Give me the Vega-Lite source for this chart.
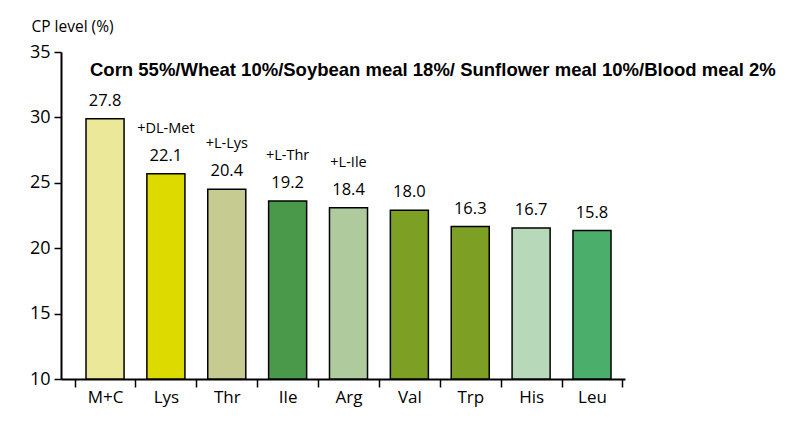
{
  "$schema": "https://vega.github.io/schema/vega-lite/v6.json",
  "width": 564,
  "height": 327,
  "autosize": {"type": "none"},
  "padding": {"left": 61, "top": 52, "right": 177, "bottom": 56},
  "background": "white",
  "title": {
    "text": "Corn 55%/Wheat 10%/Soybean meal 18%/ Sunflower meal 10%/Blood meal 2%",
    "anchor": "start",
    "frame": "group",
    "orient": "top",
    "offset": 0,
    "dx": 29,
    "dy": 69,
    "baseline": "middle",
    "font": "Liberation Sans",
    "fontSize": 18.5,
    "fontWeight": "bold",
    "color": "#000000"
  },
  "data": {
    "values": [
      {"aa": "M+C", "cp": 29.9, "label": "27.8", "note": "", "color": "#ECE89A"},
      {"aa": "Lys", "cp": 25.7, "label": "22.1", "note": "+DL-Met", "color": "#DDDA00"},
      {"aa": "Thr", "cp": 24.5, "label": "20.4", "note": "+L-Lys", "color": "#C5CB91"},
      {"aa": "Ile", "cp": 23.6, "label": "19.2", "note": "+L-Thr", "color": "#4A994B"},
      {"aa": "Arg", "cp": 23.1, "label": "18.4", "note": "+L-Ile", "color": "#AFCB9E"},
      {"aa": "Val", "cp": 22.9, "label": "18.0", "note": "", "color": "#7C9F24"},
      {"aa": "Trp", "cp": 21.65, "label": "16.3", "note": "", "color": "#7C9F24"},
      {"aa": "His", "cp": 21.55, "label": "16.7", "note": "", "color": "#B8D9B9"},
      {"aa": "Leu", "cp": 21.35, "label": "15.8", "note": "", "color": "#4BAE6B"}
    ]
  },
  "encoding": {
    "x": {
      "field": "aa",
      "type": "nominal",
      "sort": null,
      "scale": {"paddingInner": 0, "paddingOuter": 0.133, "align": 0.84},
      "axis": {
        "title": null,
        "labelAngle": 0,
        "labelFont": "Open Sans",
        "labelFontSize": 17,
        "labelColor": "#000000",
        "labelPadding": 2,
        "tickBand": "extent",
        "tickSize": 8,
        "tickWidth": 1.5,
        "tickColor": "#000000",
        "domainColor": "#000000",
        "domainWidth": 2,
        "grid": false
      }
    },
    "y": {
      "field": "cp",
      "type": "quantitative",
      "scale": {"domain": [10, 35], "nice": false, "zero": false},
      "axis": {
        "title": "CP level (%)",
        "titleAngle": 0,
        "titleAlign": "left",
        "titleBaseline": "middle",
        "titleX": -30,
        "titleY": -26,
        "titleFont": "Open Sans",
        "titleFontSize": 15.5,
        "titleFontWeight": "normal",
        "titleColor": "#000000",
        "values": [10, 15, 20, 25, 30, 35],
        "labelFont": "Open Sans",
        "labelFontSize": 18,
        "labelColor": "#000000",
        "labelPadding": 4,
        "tickSize": 7,
        "tickWidth": 1.5,
        "tickColor": "#000000",
        "domainColor": "#000000",
        "domainWidth": 2,
        "grid": false
      }
    }
  },
  "layer": [
    {
      "mark": {"type": "bar", "width": {"band": 0.625}, "stroke": "#000000", "strokeWidth": 1.5},
      "encoding": {
        "y2": {"datum": 10},
        "fill": {"field": "color", "type": "nominal", "scale": null}
      }
    },
    {
      "mark": {"type": "text", "font": "Open Sans", "fontSize": 16.5, "baseline": "middle", "dy": -18, "color": "#000000"},
      "encoding": {"text": {"field": "label"}}
    },
    {
      "mark": {"type": "text", "font": "Open Sans", "fontSize": 14.5, "baseline": "middle", "dy": -45, "color": "#000000"},
      "encoding": {"text": {"field": "note"}}
    }
  ],
  "config": {"view": {"stroke": null}}
}
